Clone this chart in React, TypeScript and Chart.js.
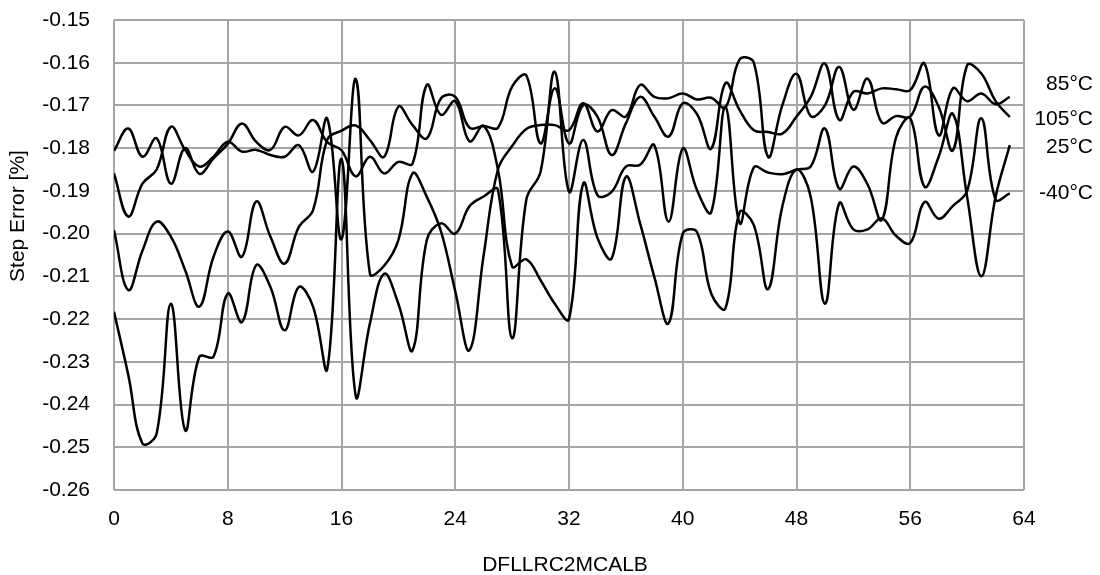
import { useEffect, useRef } from "react";
import { Chart, registerables } from "chart.js";

Chart.register(...registerables);

// DFLLRC2MCALB codes (x categories)
const codes = [
  0, 1, 2, 3, 4, 5, 6, 7, 8, 9, 10, 11, 12, 13, 14, 15, 16, 17, 18, 19, 20,
  21, 22, 23, 24, 25, 26, 27, 28, 29, 30, 31, 32, 33, 34, 35, 36, 37, 38, 39,
  40, 41, 42, 43, 44, 45, 46, 47, 48, 49, 50, 51, 52, 53, 54, 55, 56, 57, 58,
  59, 60, 61, 62, 63,
];

// Step error [%] per temperature
const err85 = [
  -0.1992, -0.2132, -0.204, -0.1972, -0.2007, -0.2085, -0.2171, -0.2054,
  -0.1995, -0.2054, -0.1925, -0.2007, -0.207, -0.1984, -0.1945, -0.178,
  -0.1759, -0.1747, -0.1781, -0.182, -0.1703, -0.1746, -0.1777, -0.1683,
  -0.168, -0.1752, -0.1748, -0.1752, -0.1656, -0.163, -0.1789, -0.166,
  -0.1789, -0.1699, -0.1726, -0.1816, -0.1742, -0.168, -0.1726, -0.1773,
  -0.1695, -0.172, -0.1801, -0.1648, -0.1711, -0.1758, -0.1762, -0.1766,
  -0.1726, -0.168, -0.1602, -0.1734, -0.1668, -0.1672, -0.166, -0.1662,
  -0.1664, -0.1602, -0.177, -0.166, -0.169, -0.1672, -0.1697, -0.168,
];
const err105 = [
  -0.1859, -0.196, -0.1883, -0.185, -0.175, -0.1804, -0.1843, -0.182,
  -0.1785, -0.1808, -0.1804, -0.1816, -0.182, -0.1793, -0.1855, -0.1731,
  -0.2013, -0.1638, -0.2094, -0.2075, -0.2015, -0.1859, -0.1914, -0.1995,
  -0.2135, -0.2273, -0.205, -0.185, -0.1795, -0.1755, -0.1746, -0.1746,
  -0.1758, -0.1695, -0.1761, -0.1711, -0.1726, -0.1652, -0.168, -0.1683,
  -0.1672, -0.1686, -0.1682, -0.1705, -0.1592, -0.16, -0.182, -0.17,
  -0.1626, -0.1725, -0.17, -0.161, -0.171, -0.1637, -0.174, -0.1725,
  -0.1726, -0.1656, -0.1703, -0.1805, -0.1606, -0.1625, -0.169, -0.1727,
];
const err25 = [
  -0.2183, -0.233, -0.2491, -0.2468, -0.2164, -0.246, -0.2288, -0.2288,
  -0.214, -0.2207, -0.2074, -0.2125, -0.2226, -0.2125, -0.2171, -0.2316,
  -0.1825, -0.238, -0.221, -0.2094, -0.2164, -0.2273, -0.2015, -0.1976,
  -0.2, -0.1936, -0.1913, -0.1897, -0.2245, -0.192, -0.1855, -0.1621,
  -0.1902, -0.1781, -0.191, -0.1902, -0.1843, -0.1839, -0.1793, -0.1972,
  -0.1801, -0.1898, -0.195, -0.1703, -0.1975, -0.1845, -0.1857, -0.1861,
  -0.185, -0.1843, -0.1754, -0.1895, -0.1843, -0.1885, -0.1968, -0.1775,
  -0.173, -0.189, -0.182, -0.172, -0.1914, -0.21, -0.1914, -0.1793,
];
const errM40 = [
  -0.1806, -0.1754, -0.182, -0.1777, -0.1883, -0.18, -0.186, -0.1824,
  -0.179, -0.1742, -0.1785, -0.1804, -0.175, -0.177, -0.1734, -0.1786,
  -0.1805, -0.1866, -0.182, -0.1859, -0.1832, -0.1836, -0.1652, -0.1722,
  -0.169, -0.1784, -0.1748, -0.185, -0.2077, -0.206, -0.2109, -0.2164,
  -0.22, -0.1883, -0.201, -0.2058, -0.1867, -0.1976, -0.2101, -0.221,
  -0.2, -0.1996, -0.214, -0.2175, -0.195, -0.198, -0.213, -0.1937,
  -0.185, -0.1914, -0.2164, -0.1929, -0.199, -0.199, -0.1964, -0.2005,
  -0.2022, -0.1926, -0.1965, -0.1935, -0.19, -0.173, -0.192, -0.1906,
];

const seriesNames = ["85°C", "105°C", "25°C", "-40°C"];
const labelValues = [-0.165, -0.1732, -0.1797, -0.1905];
const xTitle = "DFLLRC2MCALB";
const yTitle = "Step Error [%]";
const xMin = 0;
const xMax = 64;
const xStep = 8;
const yMin = -0.26;
const yMax = -0.15;
const yStep = 0.01;

const FONT = '"Liberation Sans", Arial, sans-serif';
const FONT_SIZE = 21;
const GRID = "#a6a6a6";

export default function App() {
  const ref = useRef<HTMLCanvasElement | null>(null);

  useEffect(() => {
    document.body.style.margin = "0";
    const canvas = ref.current;
    if (!canvas) return;

    const allSeries = [err85, err105, err25, errM40];
    const datasets = allSeries.map((arr, i) => ({
      label: seriesNames[i],
      data: codes.map((c, k) => ({ x: c, y: arr[k] })),
      borderColor: "#000000",
      backgroundColor: "#000000",
      borderWidth: 2.5,
      pointRadius: 0,
      tension: 0.4,
      fill: false,
    }));

    const annot = {
      id: "annot",
      afterDraw(chart: any) {
        const { ctx, chartArea: a, scales } = chart;
        ctx.save();
        ctx.fillStyle = "#000";
        ctx.font = `${FONT_SIZE}px ${FONT}`;
        ctx.textBaseline = "middle";
        ctx.textAlign = "right";
        seriesNames.forEach((n, i) => {
          ctx.fillText(n, a.right + 69, scales.y.getPixelForValue(labelValues[i]));
        });
        ctx.textAlign = "center";
        ctx.fillText(xTitle, (a.left + a.right) / 2 - 4, a.bottom + 75);
        ctx.translate(18, a.top + 196);
        ctx.rotate(-Math.PI / 2);
        ctx.fillText(yTitle, 0, 0);
        ctx.restore();
      },
    };

    const chart = new Chart(canvas, {
      type: "line",
      data: { datasets },
      options: {
        responsive: false,
        animation: false,
        events: [],
        layout: { padding: { left: 0, right: 76, top: 20, bottom: 0 } },
        plugins: {
          legend: { display: false },
          tooltip: { enabled: false },
          title: { display: false },
        },
        scales: {
          x: {
            type: "linear",
            min: xMin,
            max: xMax,
            ticks: {
              stepSize: xStep,
              color: "#000",
              font: { family: FONT, size: FONT_SIZE },
              padding: 17,
              maxRotation: 0,
            },
            grid: { color: GRID, lineWidth: 2, drawTicks: false },
            border: { display: false },
            afterFit(s: any) {
              s.height = 85;
              s.paddingLeft = 0;
              s.paddingRight = 0;
            },
          },
          y: {
            type: "linear",
            min: yMin,
            max: yMax,
            ticks: {
              stepSize: yStep,
              color: "#000",
              font: { family: FONT, size: FONT_SIZE },
              padding: 24,
              callback: (v: any) => Number(v).toFixed(2),
            },
            grid: { color: GRID, lineWidth: 2, drawTicks: false },
            border: { display: false },
            afterFit(s: any) {
              s.width = 114;
              s.paddingTop = 0;
              s.paddingBottom = 0;
            },
          },
        },
      },
      plugins: [annot],
    });

    return () => chart.destroy();
  }, []);

  return (
    <div style={{ width: 1100, height: 575 }}>
      <canvas ref={ref} width={1100} height={575} />
    </div>
  );
}
